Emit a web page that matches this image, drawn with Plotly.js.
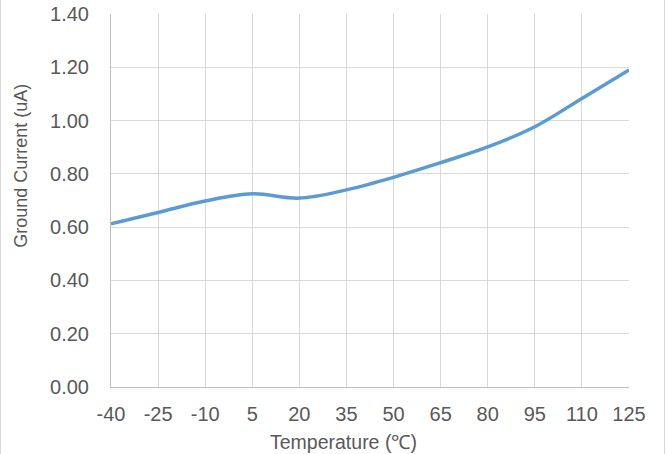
<!DOCTYPE html>
<html>
<head>
<meta charset="utf-8">
<script src="https://cdn.plot.ly/plotly-3.0.1.min.js"></script>
<style>
html,body{margin:0;padding:0;background:#fff;}
#wrap{position:relative;width:666px;height:454px;}
#chart{width:666px;height:454px;}
#bl{position:absolute;left:0;top:0;width:1px;height:454px;background:#d9d9d9;}
#br{position:absolute;left:664px;top:0;width:1px;height:454px;background:#d9d9d9;}
</style>
</head>
<body>
<div id="wrap"><div id="chart"></div><div id="bl"></div><div id="br"></div></div>
<script>
const temperatures = [-40, -25, -10, 5, 20, 35, 50, 65, 80, 95, 110, 125];
const groundCurrent = [0.613, 0.655, 0.698, 0.725, 0.709, 0.740, 0.787, 0.842, 0.901, 0.977, 1.083, 1.190];
const yTicks = [0, 0.2, 0.4, 0.6, 0.8, 1.0, 1.2, 1.4];
const xTitle = 'Temperature (℃)';
const yTitle = 'Ground Current (uA)';

const font = {family: 'Liberation Sans, Arial, sans-serif', size: 20, color: '#595959'};

Plotly.newPlot('chart', [{
  x: temperatures,
  y: groundCurrent,
  type: 'scatter',
  mode: 'lines',
  line: {color: '#5B9BD5', width: 3.5, shape: 'spline', smoothing: 1},
  hoverinfo: 'skip'
}], {
  width: 666, height: 454,
  margin: {l: 111, r: 37, t: 14, b: 67, pad: 0},
  paper_bgcolor: '#fff', plot_bgcolor: '#fff',
  showlegend: false,
  font: font,
  xaxis: {
    range: [-40, 125], tickmode: 'array', tickvals: temperatures,
    ticktext: temperatures.map(String),
    showgrid: true, gridcolor: '#d9d9d9', gridwidth: 1,
    zeroline: false, showline: true, linecolor: '#bfbfbf', linewidth: 1, mirror: false,
    ticks: '', ticklabelstandoff: 9,
    tickfont: font
  },
  yaxis: {
    range: [0, 1.4], tickmode: 'array', tickvals: yTicks,
    ticktext: yTicks.map(v => v.toFixed(2)),
    showgrid: true, gridcolor: '#d9d9d9', gridwidth: 1,
    zeroline: false, showline: true, linecolor: '#bfbfbf', linewidth: 1,
    ticks: '', ticklabelstandoff: 17,
    tickfont: font
  },
  annotations: [
    {text: xTitle, xref: 'paper', yref: 'paper', x: 0.448, y: -0.148,
     xanchor: 'center', yanchor: 'middle', showarrow: false,
     font: {family: font.family, size: 19.5, color: '#595959'}},
    {text: yTitle, xref: 'paper', yref: 'paper', x: -0.173, y: 0.594,
     xanchor: 'center', yanchor: 'middle', textangle: -90, showarrow: false,
     font: {family: font.family, size: 18, color: '#595959'}}
  ]
}, {staticPlot: true});
</script>
</body>
</html>
